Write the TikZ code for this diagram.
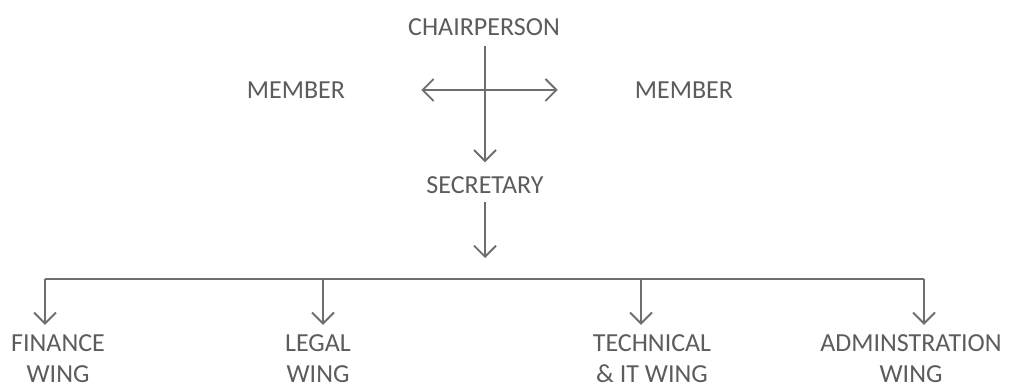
\documentclass[tikz,border=0pt]{standalone}
\usepackage{fontspec}
\setmainfont{Carlito}
\usetikzlibrary{arrows.meta,positioning,calc}
\definecolor{inkgray}{HTML}{5C5C5C}
\definecolor{linegray}{HTML}{6E6E6E}

\begin{document}
\begin{tikzpicture}[
      x=1pt, y=-1pt,
      lbl/.style={text=inkgray, font=\fontsize{26}{31}\selectfont,
                  inner sep=0pt, align=center},
      ln/.style={draw=linegray, line width=1.8pt},
      arr/.style={ln, -{Straight Barb[length=11pt,width=22pt,line width=1.8pt]}},
      arrLR/.style={ln, {Straight Barb[length=11pt,width=22pt,line width=1.8pt]}-{Straight Barb[length=11pt,width=22pt,line width=1.8pt]}},
    ]
    \useasboundingbox (0,0) rectangle (1018,390);

    \node[lbl] (chair)  at (484, 27) {CHAIRPERSON};
    \node[lbl] (memL)   at (296, 90) {MEMBER};
    \node[lbl] (memR)   at (684, 90) {MEMBER};
    \node[lbl] (sec)    at (485,185) {SECRETARY};

    \node[lbl] (fin)    at ( 58,359) {FINANCE\\WING};
    \node[lbl] (legal)  at (318,359) {LEGAL\\WING};
    \node[lbl] (tech)   at (652,359) {TECHNICAL\\\& IT WING};
    \node[lbl] (adm)    at (911,359) {ADMINSTRATION\\WING};

    \coordinate (hub) at (485,279);
    \coordinate (b1)  at ( 45,279);
    \coordinate (b2)  at (323,279);
    \coordinate (b3)  at (641,279);
    \coordinate (b4)  at (924,279);

    \draw[arr]  (chair.south -| hub) ++(0,10) coordinate (c0) -- ($(sec.north -| hub)+(0,-14)$);
    \draw[arrLR, shorten <=76pt, shorten >=77pt] (memL.east) -- (memR.west);
    \draw[arr, shorten <=8pt, shorten >=21pt] (sec.south -| hub) -- (hub);

    \draw[ln] (b1) -- (b4);
    \draw[arr, shorten >=10pt] (b1) -- (b1 |- fin.north);
    \draw[arr, shorten >=10pt] (b2) -- (b2 |- legal.north);
    \draw[arr, shorten >=10pt] (b3) -- (b3 |- tech.north);
    \draw[arr, shorten >=10pt] (b4) -- (b4 |- adm.north);
  \end{tikzpicture}
\end{document}
